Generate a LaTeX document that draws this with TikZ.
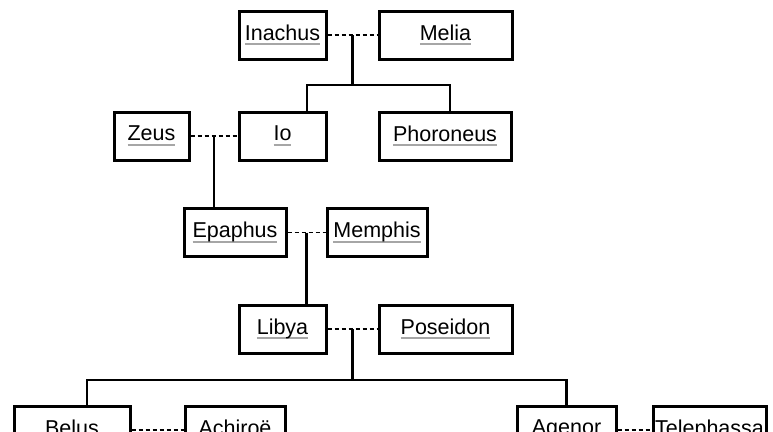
\documentclass[tikz,border=0pt]{standalone}
\usepackage{fontspec}
\setmainfont{Liberation Sans}
\usepackage{xcolor}

% name with a grey underline
\newcommand\ulname[1]{\setbox0\hbox{#1}\leavevmode\rlap{\color{black!35}\rule[-5pt]{\wd0}{2pt}}\box0}

\begin{document}
\begin{tikzpicture}[
    x=1pt, y=-1pt,
    person/.style={draw, line width=3pt, minimum height=48pt, minimum width=#1,
        inner sep=0pt, font=\fontsize{21.5}{25}\selectfont},
    person/.default=88pt,
    partner/.style={line width=1.4pt, dash pattern=on 4pt off 3pt},
    child/.style={line width=2.3pt}
]
    \useasboundingbox (0,0) rectangle (773,431);
    \clip (0,0) rectangle (773,431);

    % Generation 1
    \node[person=87pt]  (inachus) at (282.5,35) {\ulname{Inachus}};
    \node[person=133pt] (melia)   at (445.5,35) {\ulname{Melia}};

    % Generation 2
    \node[person=75pt]  (zeus)      at (151.5,136) {\ulname{Zeus}};
    \node[person=87pt]  (io)        at (282.5,136) {\ulname{Io}};
    \node[person=132pt] (phoroneus) at (445,136)   {\ulname{Phoroneus}};

    % Generation 3
    \node[person=102pt] (epaphus) at (235,232.5) {\ulname{Epaphus}};
    \node[person=100pt] (memphis) at (377,232.5) {\ulname{Memphis}};

    % Generation 4
    \node[person=87pt]  (libya)    at (282.5,329) {\ulname{Libya}};
    \node[person=133pt] (poseidon) at (445.5,329) {\ulname{Poseidon}};

    % Generation 5
    \node[person=116pt] (belus)      at (72,430)    {\ulname{Belus}};
    \node[person=100pt] (achiroe)    at (235,430)   {\ulname{Achiroë}};
    \node[person=99pt]  (agenor)     at (566.5,430) {\ulname{Agenor}};
    \node[person=113pt] (telephassa) at (709.5,430) {\ulname{Telephassa}};

    % Couples
    \draw[partner] (inachus) -- (melia)   coordinate[midway] (m1);
    \draw[partner] (zeus)    -- (io)      coordinate[midway] (m2);
    \draw[partner] (epaphus) -- (memphis) coordinate[midway] (m3);
    \draw[partner] (libya)   -- (poseidon) coordinate[midway] (m4);
    \draw[partner] (belus)   -- (achiroe);
    \draw[partner] (agenor)  -- (telephassa);

    % Children
    \draw[child] (m1) -- (m1 |- 0,85) coordinate (bar1);
    \draw[child] (io.north -| 307,0) |- (bar1) -| (phoroneus.north -| 450,0);
    \draw[child] (m2) -- (m2 |- epaphus.north);
    \draw[child] (m3) -- (m3 |- libya.north);
    \draw[child] (m4) -- (m4 |- 0,380) coordinate (bar2);
    \draw[child] (belus.north -| 87,0) |- (bar2) -| (agenor.north);

\end{tikzpicture}
\end{document}
